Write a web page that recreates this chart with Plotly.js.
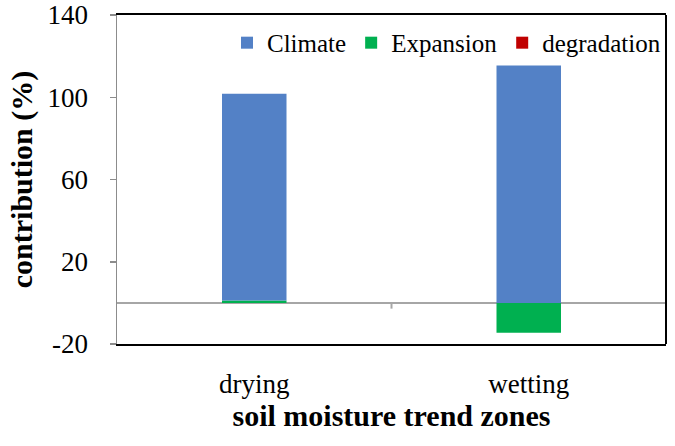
<!DOCTYPE html>
<html>
<head>
<meta charset="utf-8">
<script src="https://cdn.plot.ly/plotly-3.0.1.min.js"></script>
<style>html,body{margin:0;padding:0;background:#fff;}#chart{width:675px;height:446px;}</style>
</head>
<body>
<div id="chart"></div>
<script>
const zones = ["drying", "wetting"];
const climate = [100.5, 115.5];
const expansion = [1.2, -14.5];
const degradation = [0, 0];
const yTicks = [-20, 20, 60, 100, 140];

const font = "Liberation Serif";
const barW = 0.235;

const traces = [
  {type: "bar", name: "Expansion", x: zones, y: expansion, width: barW, marker: {color: "#00B050"}, legendrank: 2},
  {type: "bar", name: "Climate", x: zones, y: climate, width: barW, marker: {color: "#5381C6"}, legendrank: 1},
  {type: "bar", name: "degradation", x: zones, y: degradation, width: barW, marker: {color: "#C00000"}, legendrank: 3}
];

const layout = {
  width: 675, height: 446,
  margin: {l: 117, r: 9, t: 15, b: 102},
  paper_bgcolor: "#fff", plot_bgcolor: "#fff",
  barmode: "relative",
  showlegend: true,
  font: {family: font, color: "#000"},
  legend: {orientation: "h", x: 1, xanchor: "right", y: 0.985, yanchor: "top",
           font: {family: font, size: 25, color: "#000"}, bgcolor: "rgba(0,0,0,0)",
           itemwidth: 30, tracegroupgap: 0},
  xaxis: {
    type: "category",
    showline: true, linecolor: "#000", linewidth: 2, mirror: true,
    ticks: "", showgrid: false, zeroline: false,
    tickfont: {family: font, size: 27, color: "#000"},
    ticklabelstandoff: 15,
    title: {text: "soil moisture trend zones", font: {family: font, size: 30, color: "#000", weight: "bold"}, standoff: 4}
  },
  yaxis: {
    range: [-20, 140],
    tickmode: "array",
    tickvals: yTicks,
    ticktext: yTicks.map(String),
    ticklabeloverflow: "allow",
    showline: true, linecolor: "#8c8c8c", linewidth: 1.5,
    ticks: "outside", ticklen: 6, tickcolor: "#8c8c8c", tickwidth: 1.5,
    showgrid: false,
    zeroline: true, zerolinecolor: "#a6a6a6", zerolinewidth: 2,
    tickfont: {family: font, size: 27, color: "#000"},
    ticklabelstandoff: 16,
    title: {text: "contribution (%)", font: {family: font, size: 30, color: "#000", weight: "bold"}, standoff: 6}
  },
  shapes: [
    {type: "line", xref: "paper", yref: "paper", x0: 1, x1: 1, y0: 0, y1: 1, line: {color: "#000", width: 2}},
    {type: "line", xref: "paper", yref: "y", x0: 0.5, x1: 0.5, y0: 0, y1: -2.8, line: {color: "#a6a6a6", width: 2}}
  ]
};

Plotly.newPlot("chart", traces, layout, {displayModeBar: false, staticPlot: true});
</script>
</body>
</html>
